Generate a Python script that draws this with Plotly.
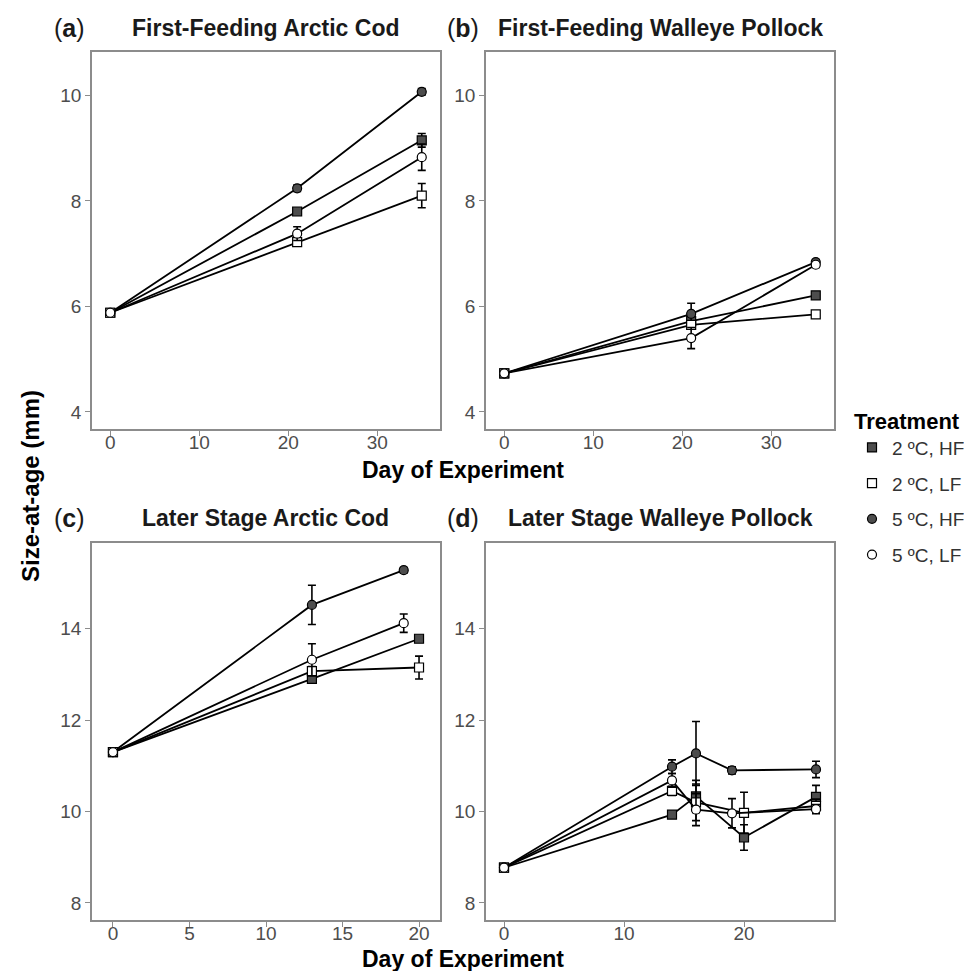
import plotly.graph_objects as go

# ---------------- data ----------------
treatments = ["2 ºC, HF", "2 ºC, LF", "5 ºC, HF", "5 ºC, LF"]

# (a) First-Feeding Arctic Cod
a_days_2 = [0, 21, 35]
a_days_5 = [0, 21, 35]
a_2HF = [5.88, 7.80, 9.15];  a_2HF_se = [0.04, 0.07, 0.13]
a_2LF = [5.88, 7.22, 8.10];  a_2LF_se = [0.04, 0.07, 0.23]
a_5HF = [5.88, 8.24, 10.07]; a_5HF_se = [0.04, 0.06, 0.06]
a_5LF = [5.88, 7.38, 8.83];  a_5LF_se = [0.04, 0.13, 0.25]

# (b) First-Feeding Walleye Pollock
b_days_2 = [0, 21, 35]
b_days_5 = [0, 21, 35]
b_2HF = [4.73, 5.72, 6.21]; b_2HF_se = [0.03, 0.08, 0.04]
b_2LF = [4.73, 5.65, 5.85]; b_2LF_se = [0.03, 0.07, 0.05]
b_5HF = [4.73, 5.86, 6.84]; b_5HF_se = [0.03, 0.20, 0.05]
b_5LF = [4.73, 5.40, 6.79]; b_5LF_se = [0.03, 0.20, 0.05]

# (c) Later Stage Arctic Cod
c_days_2 = [0, 13, 20]
c_days_5 = [0, 13, 19]
c_2HF = [11.30, 12.90, 13.78]; c_2HF_se = [0.04, 0.06, 0.04]
c_2LF = [11.30, 13.07, 13.15]; c_2LF_se = [0.04, 0.10, 0.25]
c_5HF = [11.30, 14.52, 15.28]; c_5HF_se = [0.04, 0.43, 0.06]
c_5LF = [11.30, 13.32, 14.12]; c_5LF_se = [0.04, 0.35, 0.20]

# (d) Later Stage Walleye Pollock
d_days_2 = [0, 14, 16, 20, 26]
d_days_5 = [0, 14, 16, 19, 26]
d_2HF = [8.77, 9.93, 10.33, 9.43, 10.32];  d_2HF_se = [0.03, 0.05, 0.35, 0.28, 0.25]
d_2LF = [8.77, 10.45, 10.20, 9.97, 10.12]; d_2LF_se = [0.03, 0.10, 0.40, 0.45, 0.15]
d_5HF = [8.77, 10.98, 11.27, 10.90, 10.92]; d_5HF_se = [0.03, 0.15, 0.70, 0.08, 0.18]
d_5LF = [8.77, 10.68, 10.04, 9.96, 10.05]; d_5LF_se = [0.03, 0.15, 0.35, 0.32, 0.10]

panel_titles = ["First-Feeding Arctic Cod", "First-Feeding Walleye Pollock",
                "Later Stage Arctic Cod", "Later Stage Walleye Pollock"]
panel_tags = ["a", "b", "c", "d"]

# ---------------- styling ----------------
W, H = 972, 971
FONT = "Liberation Sans, Arial, Helvetica, sans-serif"
DARK = "#4D4D4D"
styles = {
    "2 ºC, HF": dict(symbol="square", fill=DARK),
    "2 ºC, LF": dict(symbol="square", fill="white"),
    "5 ºC, HF": dict(symbol="circle", fill=DARK),
    "5 ºC, LF": dict(symbol="circle", fill="white"),
}

panels = [
    (a_days_2, a_days_5, [a_2HF, a_2LF, a_5HF, a_5LF], [a_2HF_se, a_2LF_se, a_5HF_se, a_5LF_se]),
    (b_days_2, b_days_5, [b_2HF, b_2LF, b_5HF, b_5LF], [b_2HF_se, b_2LF_se, b_5HF_se, b_5LF_se]),
    (c_days_2, c_days_5, [c_2HF, c_2LF, c_5HF, c_5LF], [c_2HF_se, c_2LF_se, c_5HF_se, c_5LF_se]),
    (d_days_2, d_days_5, [d_2HF, d_2LF, d_5HF, d_5LF], [d_2HF_se, d_2LF_se, d_5HF_se, d_5LF_se]),
]

fig = go.Figure()

for p, (days2, days5, vals, ses) in enumerate(panels):
    xa = "x" if p == 0 else f"x{p+1}"
    ya = "y" if p == 0 else f"y{p+1}"
    # filled markers first, open markers drawn on top (as in the reference)
    for k in [0, 2, 1, 3]:
        t = treatments[k]
        days = days2 if k < 2 else days5
        st = styles[t]
        fig.add_trace(go.Scatter(
            x=days, y=vals[k], xaxis=xa, yaxis=ya, mode="lines+markers",
            line=dict(color="black", width=1.8),
            marker=dict(symbol=st["symbol"], size=9, color=st["fill"],
                        line=dict(color="black", width=1.2)),
            error_y=dict(type="data", array=ses[k], visible=True,
                         color="black", thickness=1.6, width=4),
            showlegend=False, name=t, hoverinfo="skip"))

# legend-only traces (markers only)
for i, t in enumerate(treatments):
    st = styles[t]
    fig.add_trace(go.Scatter(
        x=[None], y=[None], mode="markers", name=t, legendgroup=t,
        marker=dict(symbol=st["symbol"], size=9, color=st["fill"],
                    line=dict(color="black", width=1.2)),
        showlegend=True))

def px_x(v):
    return v / W

def px_y(v):
    return 1 - v / H

col_dom = [(px_x(84), px_x(432)), (px_x(478), px_x(826))]
row_dom = [(px_y(421), px_y(44)), (px_y(912), px_y(535))]

xranges = [[-2.05, 37.05], [-2.05, 37.05], [-1.37, 21.37], [-1.5, 27.5]]
xticks = [[0, 10, 20, 30], [0, 10, 20, 30], [0, 5, 10, 15, 20], [0, 10, 20]]
yranges = [[3.675, 10.825], [3.675, 10.825], [7.625, 15.875], [7.625, 15.875]]
yticks = [[4, 6, 8, 10], [4, 6, 8, 10], [8, 10, 12, 14], [8, 10, 12, 14]]

axis_common = dict(showgrid=False, zeroline=False, showline=True, mirror=True,
                   linecolor="#8C8C8C", linewidth=1.6, ticks="outside", ticklen=5,
                   tickwidth=1.4, tickcolor="#8C8C8C",
                   tickfont=dict(family=FONT, size=19, color=DARK))

layout = {}
for p in range(4):
    r, c = divmod(p, 2)
    xn = "xaxis" if p == 0 else f"xaxis{p+1}"
    yn = "yaxis" if p == 0 else f"yaxis{p+1}"
    ya = "y" if p == 0 else f"y{p+1}"
    xa = "x" if p == 0 else f"x{p+1}"
    layout[xn] = dict(domain=list(col_dom[c]), range=xranges[p], tickvals=xticks[p],
                      anchor=ya, ticklabelstandoff=-10, **axis_common)
    layout[yn] = dict(domain=list(row_dom[r]), range=yranges[p], tickvals=yticks[p],
                      anchor=xa, **axis_common)

annotations = []
title_y_px = [20, 20, 510, 510]
for p in range(4):
    r, c = divmod(p, 2)
    cx = (col_dom[c][0] + col_dom[c][1]) / 2
    annotations.append(dict(x=cx, y=px_y(title_y_px[p]), xref="paper", yref="paper",
                            text=f"<b>{panel_titles[p]}</b>", showarrow=False,
                            font=dict(family=FONT, size=23, color="#1A1A1A"),
                            xanchor="center", yanchor="middle"))
    tag_x = 61 if c == 0 else 455
    annotations.append(dict(x=px_x(tag_x), y=px_y(title_y_px[p]), xref="paper", yref="paper",
                            text=f"(<b>{panel_tags[p]}</b>)", showarrow=False,
                            font=dict(family=FONT, size=25, color="#1A1A1A"),
                            xanchor="center", yanchor="middle"))

for ypx in [462, 951]:
    annotations.append(dict(x=px_x(455), y=px_y(ypx), xref="paper", yref="paper",
                            text="<b>Day of Experiment</b>", showarrow=False,
                            font=dict(family=FONT, size=23, color="black"),
                            xanchor="center", yanchor="middle"))
annotations.append(dict(x=px_x(22), y=px_y(478), xref="paper", yref="paper",
                        text="<b>Size-at-age (mm)</b>", showarrow=False, textangle=-90,
                        font=dict(family=FONT, size=24, color="black"),
                        xanchor="center", yanchor="middle"))

fig.update_layout(
    width=W, height=H, margin=dict(l=0, r=0, t=0, b=0),
    paper_bgcolor="white", plot_bgcolor="white",
    annotations=annotations,
    legend=dict(x=px_x(844), y=px_y(392), xanchor="left", yanchor="top",
                title=dict(text="<b>Treatment</b>", side="top",
                           font=dict(family=FONT, size=22, color="black")),
                font=dict(family=FONT, size=19, color="#333333"),
                tracegroupgap=8, bgcolor="rgba(0,0,0,0)"),
    **layout)

fig.write_html("out.html")
